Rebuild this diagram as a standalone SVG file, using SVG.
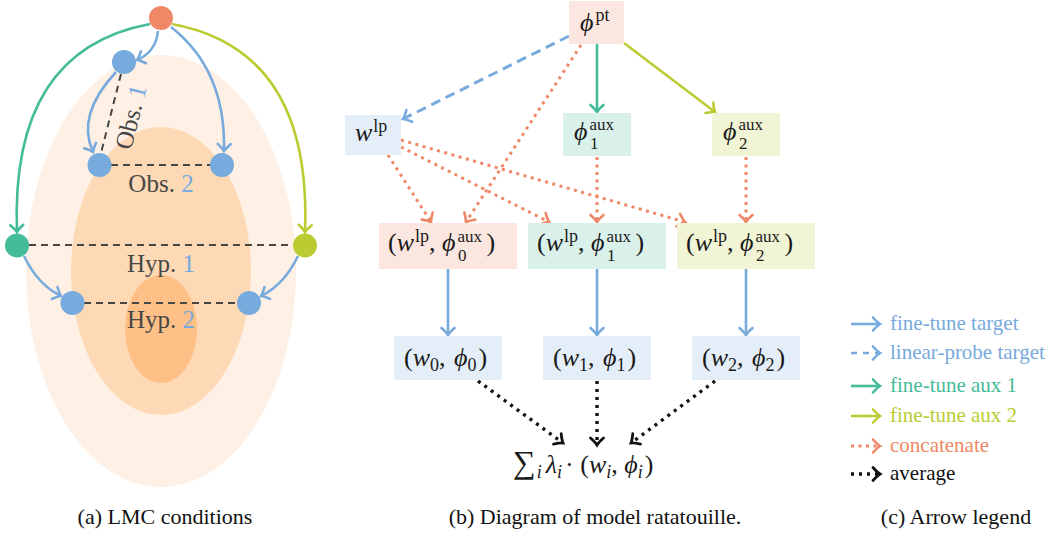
<svg xmlns="http://www.w3.org/2000/svg" width="1050" height="533" viewBox="0 0 1050 533">
<style>
.lbl{font-family:"Liberation Serif","DejaVu Serif",serif;font-size:25px;fill:#474747}
.lblb{fill:#77AADD}
.m{font-family:"Liberation Serif","DejaVu Serif",serif;font-size:26px;fill:#1a1a1a}
.i{font-style:italic}
.s{font-size:18px}
.t{font-size:17px}
.leg{font-family:"Liberation Serif","DejaVu Serif",serif;font-size:21px}
.cap{font-family:"Liberation Serif","DejaVu Serif",serif;font-size:22px;fill:#111;text-anchor:middle}
.dash{fill:none;stroke:#474747;stroke-width:2;stroke-dasharray:7 5}
.c{fill:none;stroke-width:2.6}
.cb{stroke:#77AADD}
.cg{stroke:#44BB99}
.cy{stroke:#BBCC33}
.co{stroke:#EE8866;stroke-dasharray:3 4.5;stroke-width:3}
.ck{stroke:#111;stroke-dasharray:3 5;stroke-width:3.4}
.bd{stroke-dasharray:10 6;stroke-width:3}
</style>
<defs>
<marker id="ab" viewBox="-10 -10 20 20" markerWidth="20" markerHeight="20" refX="0" refY="0" orient="auto" markerUnits="userSpaceOnUse"><path d="M-7,-6.5 Q-2.5,-1.5 0,0 Q-2.5,1.5 -7,6.5" fill="none" stroke="#77AADD" stroke-width="2.6" stroke-linecap="round"/></marker>
<marker id="ag" viewBox="-10 -10 20 20" markerWidth="20" markerHeight="20" refX="0" refY="0" orient="auto" markerUnits="userSpaceOnUse"><path d="M-7,-6.5 Q-2.5,-1.5 0,0 Q-2.5,1.5 -7,6.5" fill="none" stroke="#44BB99" stroke-width="2.6" stroke-linecap="round"/></marker>
<marker id="ay" viewBox="-10 -10 20 20" markerWidth="20" markerHeight="20" refX="0" refY="0" orient="auto" markerUnits="userSpaceOnUse"><path d="M-7,-6.5 Q-2.5,-1.5 0,0 Q-2.5,1.5 -7,6.5" fill="none" stroke="#BBCC33" stroke-width="2.6" stroke-linecap="round"/></marker>
<marker id="ao" viewBox="-10 -10 20 20" markerWidth="20" markerHeight="20" refX="0" refY="0" orient="auto" markerUnits="userSpaceOnUse"><path d="M-7,-6.5 Q-2.5,-1.5 0,0 Q-2.5,1.5 -7,6.5" fill="none" stroke="#EE8866" stroke-width="2.6" stroke-linecap="round"/></marker>
<marker id="ak" viewBox="-10 -10 20 20" markerWidth="20" markerHeight="20" refX="0" refY="0" orient="auto" markerUnits="userSpaceOnUse"><path d="M-7,-6.5 Q-2.5,-1.5 0,0 Q-2.5,1.5 -7,6.5" fill="none" stroke="#111" stroke-width="2.8" stroke-linecap="round"/></marker>
</defs>

<!-- (a) LMC conditions -->
<g id="regions">
<ellipse cx="161" cy="271" rx="135" ry="216" fill="#FEF0E4"/>
<ellipse cx="161" cy="271" rx="90" ry="144" fill="#FDD9B5"/>
<ellipse cx="161" cy="329" rx="36" ry="54" fill="#FEC086"/>
</g>
<g id="lmc-dashes">
<line class="dash" x1="121" y1="74" x2="101" y2="153"/>
<line class="dash" x1="111" y1="165" x2="210" y2="165"/>
<line class="dash" x1="29" y1="245" x2="293" y2="245"/>
<line class="dash" x1="84" y1="303" x2="237" y2="303"/>
</g>
<g id="lmc-labels">
<text class="lbl" transform="translate(139,119) rotate(-76)" text-anchor="middle">Obs. <tspan class="lblb">1</tspan></text>
<text class="lbl" x="161" y="192" text-anchor="middle">Obs. <tspan class="lblb">2</tspan></text>
<text class="lbl" x="161" y="272" text-anchor="middle">Hyp. <tspan class="lblb">1</tspan></text>
<text class="lbl" x="161" y="328" text-anchor="middle">Hyp. <tspan class="lblb">2</tspan></text>
</g>
<g id="lmc-connectors">
<path class="c cb" d="M158,31 Q156,52 137,60" marker-end="url(#ab)"/>
<path class="c cb" d="M116,72 Q76,115 93,152" marker-end="url(#ab)"/>
<path class="c cb" d="M171,27 Q226,70 224,151" marker-end="url(#ab)"/>
<path class="c cg" d="M150,24 Q10,50 17,232" marker-end="url(#ag)"/>
<path class="c cy" d="M172,24 Q312,50 305,232" marker-end="url(#ay)"/>
<path class="c cb" d="M24,256 Q38,285 61,296" marker-end="url(#ab)"/>
<path class="c cb" d="M298,256 Q284,285 261,296" marker-end="url(#ab)"/>
</g>
<g id="n-pt"><circle cx="161" cy="18" r="12" fill="#EE8866"/></g>
<g id="n-obs1"><circle cx="124" cy="62" r="12" fill="#77AADD"/></g>
<g id="n-obs2a"><circle cx="99.5" cy="165" r="12" fill="#77AADD"/></g>
<g id="n-obs2b"><circle cx="222" cy="165" r="12" fill="#77AADD"/></g>
<g id="n-aux1"><circle cx="17" cy="245.5" r="12" fill="#44BB99"/></g>
<g id="n-aux2"><circle cx="305" cy="245.5" r="12" fill="#BBCC33"/></g>
<g id="n-hyp2a"><circle cx="72.5" cy="303" r="12" fill="#77AADD"/></g>
<g id="n-hyp2b"><circle cx="249" cy="303" r="12" fill="#77AADD"/></g>

<!-- (b) Diagram -->
<g id="connectors">
<line class="c cb bd" x1="569" y1="36" x2="403" y2="119" marker-end="url(#ab)"/>
<line class="c cg" x1="597" y1="44" x2="597" y2="112" marker-end="url(#ag)"/>
<line class="c cy" x1="624" y1="43" x2="715" y2="112" marker-end="url(#ay)"/>
<line class="c co" x1="581" y1="45" x2="466" y2="222" marker-end="url(#ao)"/>
<line class="c co" x1="388" y1="155" x2="431" y2="222" marker-end="url(#ao)"/>
<line class="c co" x1="401" y1="147" x2="549" y2="222" marker-end="url(#ao)"/>
<line class="c co" x1="401" y1="140" x2="685" y2="222" marker-end="url(#ao)"/>
<line class="c co" x1="597" y1="157" x2="597" y2="222" marker-end="url(#ao)"/>
<line class="c co" x1="746" y1="157" x2="746" y2="222" marker-end="url(#ao)"/>
<line class="c cb" x1="448" y1="269" x2="448" y2="335" marker-end="url(#ab)"/>
<line class="c cb" x1="597" y1="269" x2="597" y2="335" marker-end="url(#ab)"/>
<line class="c cb" x1="746" y1="269" x2="746" y2="335" marker-end="url(#ab)"/>
<line class="c ck" x1="478" y1="381" x2="563" y2="443" marker-end="url(#ak)"/>
<line class="c ck" x1="597" y1="381" x2="597" y2="445" marker-end="url(#ak)"/>
<line class="c ck" x1="715" y1="381" x2="631" y2="443" marker-end="url(#ak)"/>
</g>

<g id="phi-pt">
<rect x="569" y="1" width="55" height="43" fill="#FCE7E0"/>
<text class="m" x="580" y="31"><tspan class="i">ϕ</tspan><tspan class="s" dx="2" dy="-10">pt</tspan></text>
</g>
<g id="w-lp">
<rect x="345" y="115" width="56" height="40" fill="#E4EEF8"/>
<text class="m" x="355" y="141"><tspan class="i">w</tspan><tspan class="s" dx="1" dy="-9">lp</tspan></text>
</g>
<g id="phi1-aux">
<rect x="563" y="113" width="68" height="43" fill="#DAF1EB"/>
<text class="m" x="574" y="140"><tspan class="i">ϕ</tspan><tspan class="t" dx="2" dy="-10">aux</tspan><tspan class="t" dx="-24" dy="19">1</tspan></text>
</g>
<g id="phi2-aux">
<rect x="712" y="113" width="68" height="43" fill="#F1F5D6"/>
<text class="m" x="723" y="140"><tspan class="i">ϕ</tspan><tspan class="t" dx="2" dy="-10">aux</tspan><tspan class="t" dx="-24" dy="19">2</tspan></text>
</g>

<g id="pair0">
<rect x="379" y="223" width="138" height="46" fill="#FCE7E0"/>
<text class="m" x="388" y="251">(<tspan class="i">w</tspan><tspan class="s" dx="1" dy="-9">lp</tspan><tspan dy="9">, </tspan><tspan class="i">ϕ</tspan><tspan class="t" dx="2" dy="-9.5">aux</tspan><tspan class="t" dx="-24" dy="19">0</tspan><tspan dx="20" dy="-9.5">)</tspan></text>
</g>
<g id="pair1">
<rect x="528" y="223" width="138" height="46" fill="#DAF1EB"/>
<text class="m" x="537" y="251">(<tspan class="i">w</tspan><tspan class="s" dx="1" dy="-9">lp</tspan><tspan dy="9">, </tspan><tspan class="i">ϕ</tspan><tspan class="t" dx="2" dy="-9.5">aux</tspan><tspan class="t" dx="-24" dy="19">1</tspan><tspan dx="20" dy="-9.5">)</tspan></text>
</g>
<g id="pair2">
<rect x="677" y="223" width="138" height="46" fill="#F1F5D6"/>
<text class="m" x="686" y="251">(<tspan class="i">w</tspan><tspan class="s" dx="1" dy="-9">lp</tspan><tspan dy="9">, </tspan><tspan class="i">ϕ</tspan><tspan class="t" dx="2" dy="-9.5">aux</tspan><tspan class="t" dx="-24" dy="19">2</tspan><tspan dx="20" dy="-9.5">)</tspan></text>
</g>

<g id="ft0">
<rect x="394" y="336" width="108" height="44" fill="#E4EEF8"/>
<text class="m" x="404" y="366">(<tspan class="i">w</tspan><tspan class="s" dy="5">0</tspan><tspan dy="-5">, </tspan><tspan class="i" dx="2">ϕ</tspan><tspan class="s" dy="5">0</tspan><tspan dx="2" dy="-5">)</tspan></text>
</g>
<g id="ft1">
<rect x="543" y="336" width="108" height="44" fill="#E4EEF8"/>
<text class="m" x="553" y="366">(<tspan class="i">w</tspan><tspan class="s" dy="5">1</tspan><tspan dy="-5">, </tspan><tspan class="i" dx="2">ϕ</tspan><tspan class="s" dy="5">1</tspan><tspan dx="2" dy="-5">)</tspan></text>
</g>
<g id="ft2">
<rect x="692" y="336" width="108" height="44" fill="#E4EEF8"/>
<text class="m" x="702" y="366">(<tspan class="i">w</tspan><tspan class="s" dy="5">2</tspan><tspan dy="-5">, </tspan><tspan class="i" dx="2">ϕ</tspan><tspan class="s" dy="5">2</tspan><tspan dx="2" dy="-5">)</tspan></text>
</g>

<g id="average">
<text class="m" x="513" y="473"><tspan style="font-size:32px">∑</tspan><tspan class="s i" dx="1" dy="5">i</tspan><tspan class="i" dx="4" dy="-5">λ</tspan><tspan class="s i" dy="5">i</tspan><tspan dx="3" dy="-5">· (</tspan><tspan class="i">w</tspan><tspan class="s i" dy="5">i</tspan><tspan dy="-5">, </tspan><tspan class="i">ϕ</tspan><tspan class="s i" dy="5">i</tspan><tspan dx="2" dy="-5">)</tspan></text>
</g>

<!-- (c) legend -->
<g id="legend">
<line class="c cb" x1="851" y1="324" x2="880" y2="324" marker-end="url(#ab)"/>
<text class="leg" x="890" y="330" fill="#77AADD">fine-tune target</text>
<line class="c cb" x1="851" y1="353" x2="880" y2="353" stroke-dasharray="6 6" marker-end="url(#ab)"/>
<text class="leg" x="890" y="359" fill="#77AADD">linear-probe target</text>
<line class="c cg" x1="851" y1="386" x2="880" y2="386" marker-end="url(#ag)"/>
<text class="leg" x="890" y="392" fill="#44BB99">fine-tune aux 1</text>
<line class="c cy" x1="851" y1="416" x2="880" y2="416" marker-end="url(#ay)"/>
<text class="leg" x="890" y="422" fill="#BBCC33">fine-tune aux 2</text>
<line class="c co" x1="851" y1="446" x2="880" y2="446" marker-end="url(#ao)"/>
<text class="leg" x="890" y="452" fill="#EE8866">concatenate</text>
<line class="c ck" x1="851" y1="474" x2="880" y2="474" marker-end="url(#ak)"/>
<text class="leg" x="890" y="480" fill="#111">average</text>
</g>

<g id="captions">
<text class="cap" x="165" y="524">(a) LMC conditions</text>
<text class="cap" x="595" y="524">(b) Diagram of model ratatouille.</text>
<text class="cap" x="956" y="524">(c) Arrow legend</text>
</g>
</svg>
